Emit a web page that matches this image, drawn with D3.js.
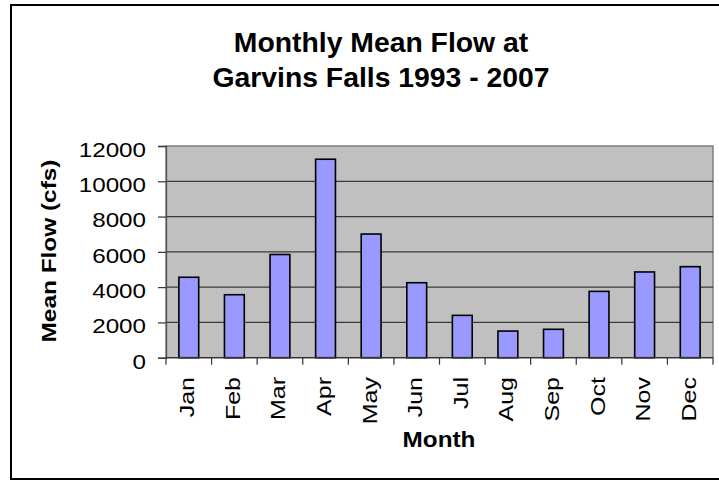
<!DOCTYPE html>
<html>
  <head>
    <style>
    body {
      font-family: Arial, "Liberation Sans", sans-serif;
      margin: 0;
      background: #fff;
    }
    </style>
  </head>
  <body>
    <script src="https://d3js.org/d3.v7.min.js"></script>
    <script>
    // monthly mean flow
    var months = ["Jan", "Feb", "Mar", "Apr", "May", "Jun", "Jul", "Aug", "Sep", "Oct", "Nov", "Dec"];
    var flows = [4560, 3570, 5850, 11250, 7010, 4250, 2400, 1510, 1610, 3760, 4860, 5160];
    var yTicks = [0, 2000, 4000, 6000, 8000, 10000, 12000];
    var titleLines = ["Monthly Mean Flow at", "Garvins Falls 1993 - 2007"];

    var width = 719, height = 481;
    var plot = {left: 166, right: 713, top: 146, bottom: 357.7};

    var svg = d3.select("body").append("svg")
        .attr("width", width)
        .attr("height", height);

    // outer chart frame (right side runs off the page)
    svg.append("rect")
        .attr("x", 11).attr("y", 5)
        .attr("width", 780).attr("height", 474)
        .attr("fill", "#fff")
        .attr("stroke", "#000")
        .attr("stroke-width", 2);

    var x = d3.scaleBand()
        .domain(months)
        .range([plot.left, plot.right])
        .paddingInner(0.565)
        .paddingOuter(0.2825);

    var y = d3.scaleLinear()
        .domain([0, 12000])
        .range([plot.bottom, plot.top]);

    // plot area
    svg.append("rect")
        .attr("x", plot.left).attr("y", plot.top)
        .attr("width", plot.right - plot.left)
        .attr("height", plot.bottom - plot.top)
        .attr("fill", "#c0c0c0")
        .attr("stroke", "#808080")
        .attr("stroke-width", 1.5);

    svg.append("g").selectAll("line")
        .data(yTicks.filter(function(d){ return d > 0 && d < 12000; }))
        .enter().append("line")
        .attr("x1", plot.left).attr("x2", plot.right)
        .attr("y1", function(d){ return y(d); })
        .attr("y2", function(d){ return y(d); })
        .attr("stroke", "#3a3a3a")
        .attr("stroke-width", 1.3);

    // bars
    svg.append("g").selectAll("rect")
        .data(flows)
        .enter().append("rect")
        .attr("x", function(d, i){ return x(months[i]); })
        .attr("y", function(d){ return y(d); })
        .attr("width", x.bandwidth())
        .attr("height", function(d){ return y(0) - y(d); })
        .attr("fill", "#9999ff")
        .attr("stroke", "#000")
        .attr("stroke-width", 1.6);

    // y axis
    var yAxis = d3.axisLeft(y).tickValues(yTicks).tickSize(8).tickFormat("");
    var ya = svg.append("g")
        .attr("transform", "translate(" + plot.left + ",0)")
        .call(yAxis);
    ya.select(".domain").attr("stroke", "#555").attr("stroke-width", 1.3);
    ya.selectAll(".tick line").attr("stroke", "#333").attr("stroke-width", 1.2);

    svg.append("g").selectAll("text")
        .data(yTicks)
        .enter().append("text")
        .attr("transform", function(d){ return "translate(146," + (y(d) + 10.8) + ") scale(1.18,1)"; })
        .attr("text-anchor", "end")
        .attr("font-size", 20.5)
        .attr("fill", "#000")
        .text(function(d){ return d; });

    // x axis: ticks between categories
    var edges = months.map(function(m){ return x(m) - x.step() * x.paddingInner() / 2; });
    edges.push(plot.right);
    var xa = svg.append("g");
    xa.append("line")
        .attr("x1", plot.left).attr("x2", plot.right)
        .attr("y1", plot.bottom).attr("y2", plot.bottom)
        .attr("stroke", "#333").attr("stroke-width", 1.3);
    xa.selectAll("line.tk")
        .data(edges)
        .enter().append("line")
        .attr("class", "tk")
        .attr("x1", function(d){ return d; }).attr("x2", function(d){ return d; })
        .attr("y1", plot.bottom).attr("y2", plot.bottom + 7)
        .attr("stroke", "#333").attr("stroke-width", 1.2);

    xa.selectAll("text")
        .data(months)
        .enter().append("text")
        .attr("transform", function(d){
          return "translate(" + (x(d) + x.bandwidth() / 2 + 5.5) + ",377) rotate(-90) scale(1.22,1)";
        })
        .attr("text-anchor", "end")
        .attr("font-size", 20.5)
        .attr("fill", "#000")
        .text(function(d){ return d; });

    // axis titles
    svg.append("text")
        .attr("transform", "translate(439,447) scale(1.13,1)")
        .attr("text-anchor", "middle")
        .attr("font-size", 21.5)
        .attr("font-weight", "bold")
        .text("Month");

    svg.append("text")
        .attr("transform", "translate(56,251) rotate(-90) scale(1.22,1)")
        .attr("text-anchor", "middle")
        .attr("font-size", 20)
        .attr("font-weight", "bold")
        .text("Mean Flow (cfs)");

    // title
    svg.append("g").selectAll("text")
        .data(titleLines)
        .enter().append("text")
        .attr("transform", function(d, i){ return "translate(381," + (51.7 + i * 35) + ") scale(1.05,1)"; })
        .attr("text-anchor", "middle")
        .attr("font-size", 27)
        .attr("font-weight", "bold")
        .text(function(d){ return d; });
    </script>
  </body>
</html>
